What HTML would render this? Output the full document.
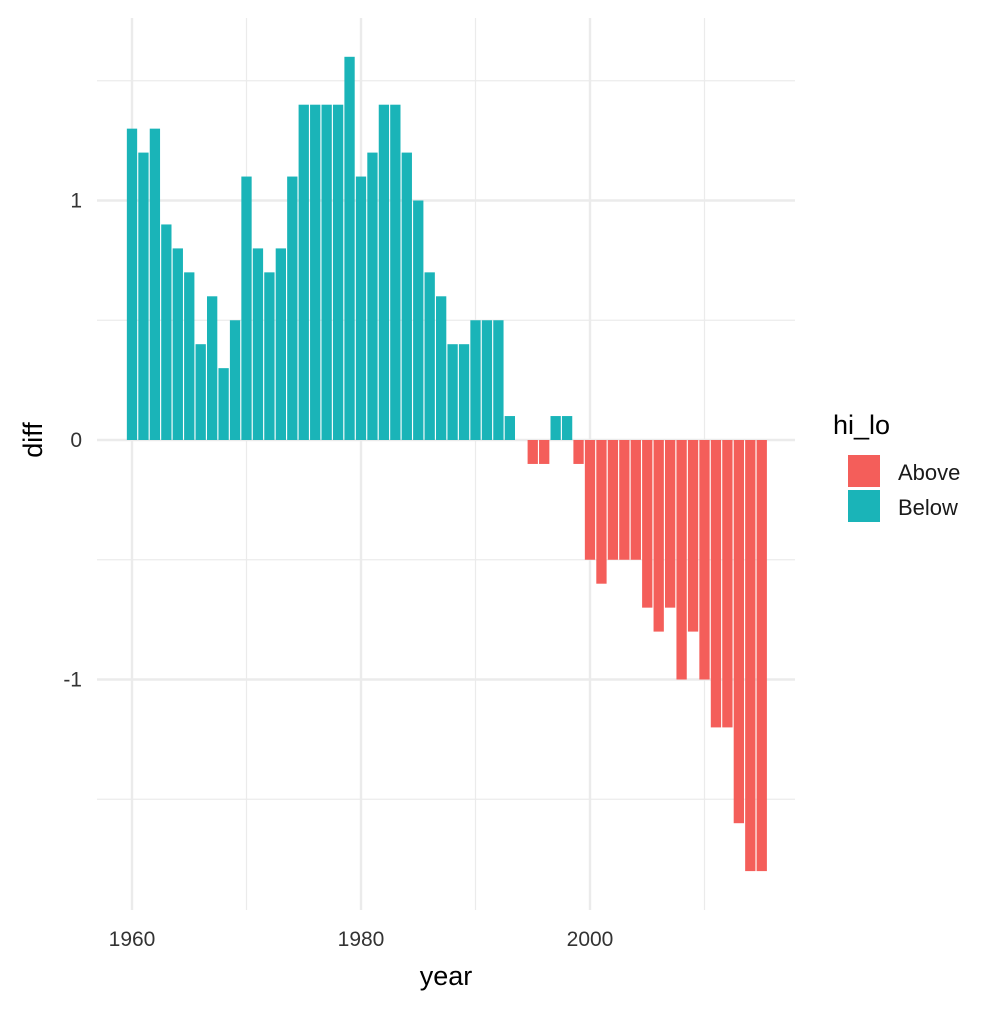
<!DOCTYPE html>
<html><head><meta charset="utf-8"><style>
body{margin:0;background:#fff}
svg{font-family:"Liberation Sans",Arial,sans-serif}
</style></head><body>
<svg id="chart" width="1008" height="1008">
<g id="grid"></g><g id="bars"></g><g id="axes"></g>
<text x="446" y="985" font-size="27" text-anchor="middle" fill="#000">year</text>
<text transform="translate(42,440) rotate(-90)" font-size="27" text-anchor="middle" fill="#000">diff</text>
<g>
<text x="833" y="434" font-size="27" fill="#000">hi_lo</text>
<rect x="848" y="455" width="32" height="32" fill="#F45E5A"/>
<text x="898" y="480" font-size="22" fill="#1a1a1a">Above</text>
<rect x="848" y="490" width="32" height="32" fill="#1AB4B8"/>
<text x="898" y="515" font-size="22" fill="#1a1a1a">Below</text>
</g>
</svg>
<script>
const years=[];for(let y=1960;y<=2015;y++)years.push(y);
const diffs=[1.3,1.2,1.3,0.9,0.8,0.7,0.4,0.6,0.3,0.5,1.1,0.8,0.7,0.8,1.1,1.4,1.4,1.4,1.4,1.6,1.1,1.2,1.4,1.4,1.2,1.0,0.7,0.6,0.4,0.4,0.5,0.5,0.5,0.1,0,-0.1,-0.1,0.1,0.1,-0.1,-0.5,-0.6,-0.5,-0.5,-0.5,-0.7,-0.8,-0.7,-1.0,-0.8,-1.0,-1.2,-1.2,-1.6,-1.8,-1.8];
const xTicks=[1960,1980,2000];
const xMinor=[1970,1990,2010];
const yTicks=[-1,0,1];
const yMinor=[-1.5,-0.5,0.5,1.5];
const NS="http://www.w3.org/2000/svg";
const X=v=>132+(v-1960)*11.45;
const Y=v=>440-v*239.5;
const L=97,R=795,T=18,B=910;
function mk(t,a,p){const e=document.createElementNS(NS,t);for(const k in a)e.setAttribute(k,a[k]);p.appendChild(e);return e;}
const g=document.getElementById('grid'),b=document.getElementById('bars'),ax=document.getElementById('axes');
xMinor.forEach(v=>{const e=mk('line',{x1:X(v),x2:X(v),y1:T,y2:B,stroke:'#ebebeb','stroke-width':1.2},g);

});
yMinor.forEach(v=>{const e=mk('line',{x1:L,x2:R,y1:Y(v),y2:Y(v),stroke:'#ebebeb','stroke-width':1.2},g);

});
xTicks.forEach(v=>{const e=mk('line',{x1:X(v),x2:X(v),y1:T,y2:B,stroke:'#ebebeb','stroke-width':2.4},g);


const t=mk('text',{x:X(v),y:946,'font-size':21,'text-anchor':'middle',fill:'#333'},ax);t.textContent=v;

});
yTicks.forEach(v=>{const e=mk('line',{x1:L,x2:R,y1:Y(v),y2:Y(v),stroke:'#ebebeb','stroke-width':2.4},g);


const t=mk('text',{x:82,y:Y(v)+7,'font-size':21,'text-anchor':'end',fill:'#333'},ax);t.textContent=v;

});
const w=11.45*0.9;
years.forEach((yr,i)=>{const d=diffs[i];if(d===0)return;
const r=mk('rect',{x:X(yr)-w/2,y:Math.min(Y(d),Y(0)),width:w,height:Math.abs(Y(d)-Y(0)),fill:d>0?'#1AB4B8':'#F45E5A'},b);

});
</script>
</body></html>
